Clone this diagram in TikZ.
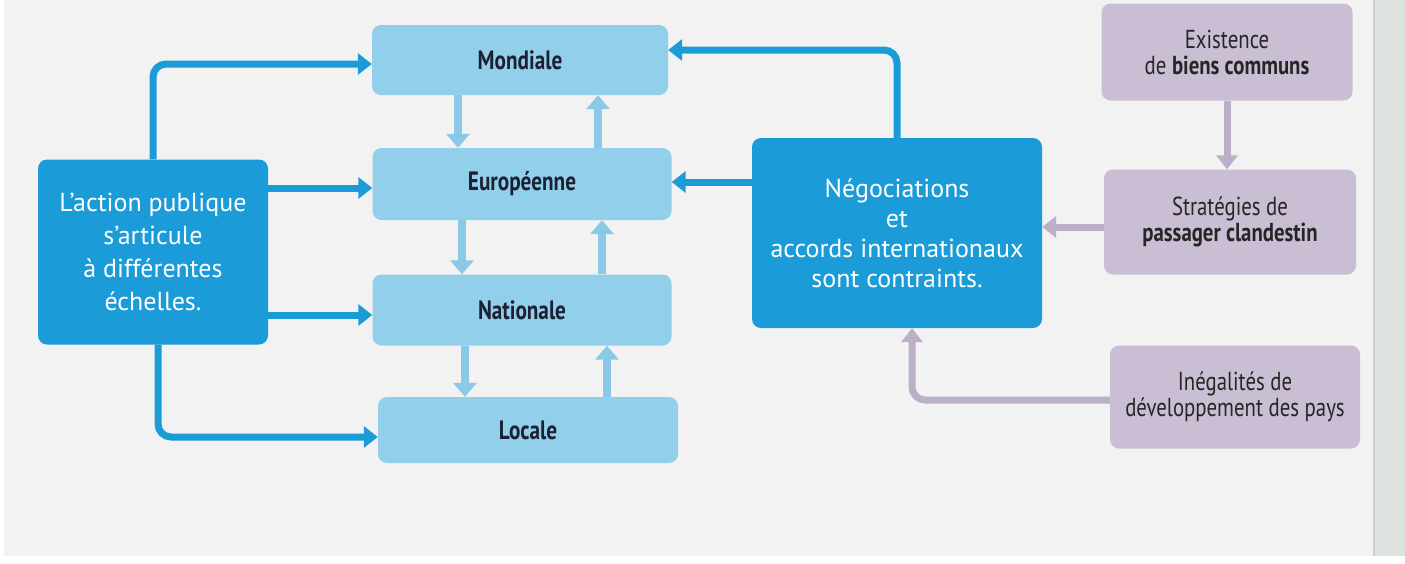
\documentclass[tikz,border=0pt]{standalone}
\usepackage{fontspec}
\setmainfont{PT Sans}
\newfontfamily\narrowfont[FakeStretch=0.80]{PT Sans}
\usetikzlibrary{arrows.meta}
\definecolor{dblue}{RGB}{27,156,216}
\definecolor{lblue}{RGB}{145,207,235}
\definecolor{lbluearr}{RGB}{138,201,232}
\definecolor{lilac}{RGB}{201,190,211}
\definecolor{lilacarr}{RGB}{188,175,200}
\definecolor{navy}{RGB}{28,32,48}
\definecolor{pagebg}{RGB}{242,242,242}
\definecolor{gutter}{RGB}{222,226,222}
\tikzset{
  darkbox/.style={fill=dblue, rounded corners=9pt, text=white, align=center, inner sep=0pt},
  lightbox/.style={fill=lblue, rounded corners=9pt, text=navy, align=center, inner sep=0pt,
    font=\narrowfont\bfseries\fontsize{26.5}{30}\selectfont},
  lilacbox/.style={fill=lilac, rounded corners=9pt, text=black!85, align=center, inner sep=0pt,
    font=\narrowfont\fontsize{26}{26}\selectfont},
  bluearrow/.style={draw=dblue, line width=7pt, rounded corners=13pt,
    -{Triangle[width=21pt,length=14pt]}},
  lightarrow/.style={draw=lbluearr, line width=8pt, -{Triangle[width=23pt,length=14pt]}},
  lilacarrow/.style={draw=lilacarr, line width=7pt, rounded corners=13pt,
    -{Triangle[width=21pt,length=14pt]}},
}
\begin{document}
\begin{tikzpicture}[x=1pt,y=-1pt]
\useasboundingbox (0,0) rectangle (1405,563);
% page
\fill[white] (0,0) rectangle (1405,563);
\fill[pagebg] (4,0) rectangle (1374,556);
\fill[gutter] (1374,0) rectangle (1405,556);
\draw[black!20, line width=1.5pt] (1374,0) -- (1374,556);

% nodes
\node[darkbox, minimum width=230pt, minimum height=185pt,
  font=\fontsize{26}{33}\selectfont] (act) at (153,252)
  {L’action publique\\s’articule\\à différentes\\échelles.};
\node[lightbox, minimum width=296pt, minimum height=70pt] (mon) at (520,60) {Mondiale};
\node[lightbox, minimum width=299pt, minimum height=72pt] (eur) at (522,184) {Européenne};
\node[lightbox, minimum width=299pt, minimum height=71pt] (nat) at (522,310) {Nationale};
\node[lightbox, minimum width=300pt, minimum height=66pt] (loc) at (528,430) {Locale};
\node[darkbox, minimum width=290pt, minimum height=190pt,
  font=\fontsize{26}{30}\selectfont] (neg) at (897,233)
  {Négociations\\et\\accords internationaux\\sont contraints.};
\node[lilacbox, minimum width=251pt, minimum height=97pt] (exi) at (1227,52)
  {Existence\\de \textbf{biens communs}};
\node[lilacbox, minimum width=252pt, minimum height=105pt] (str) at (1230,222)
  {Stratégies de\\\textbf{passager clandestin}};
\node[lilacbox, minimum width=250pt, minimum height=103pt] (ine) at (1235,397)
  {Inégalités de\\développement des pays};

% coordinates for connector ends
\coordinate (m1) at ([yshift=-4pt]mon.west);
\coordinate (e1) at ([yshift=-4pt]eur.west);
\coordinate (n1) at ([yshift=-5pt]nat.west);
\coordinate (l1) at ([yshift=-7pt]loc.west);
\coordinate (a4) at ([xshift=5pt]act.south);
\coordinate (m2) at ([yshift=10pt]mon.east);
\coordinate (e2) at ([yshift=2pt]eur.east);
\coordinate (s1) at ([yshift=-5pt]str.west);
\coordinate (i1) at ([yshift=-3pt]ine.west);
\coordinate (g1) at ([xshift=15pt]neg.south);

% dark blue connectors
\draw[bluearrow] (act.north) |- (m1);
\draw[bluearrow] (act.east |- e1) -- (e1);
\draw[bluearrow] (act.east |- n1) -- (n1);
\draw[bluearrow] (a4) |- (l1);
\draw[bluearrow] (neg.north) |- (m2);
\draw[bluearrow] (neg.west |- e2) -- (e2);

% light blue connectors between scales
\coordinate (d1) at ([xshift=-62pt]mon.south);
\coordinate (u1) at ([xshift=76pt]eur.north);
\coordinate (d2) at ([xshift=-60pt]eur.south);
\coordinate (u2) at ([xshift=80pt]nat.north);
\coordinate (d3) at ([xshift=-57pt]nat.south);
\coordinate (u3) at ([xshift=79pt]loc.north);
\draw[lightarrow] (d1) -- (d1 |- eur.north);
\draw[lightarrow] (u1) -- (u1 |- mon.south);
\draw[lightarrow] (d2) -- (d2 |- nat.north);
\draw[lightarrow] (u2) -- (u2 |- eur.south);
\draw[lightarrow] (d3) -- (d3 |- loc.north);
\draw[lightarrow] (u3) -- (u3 |- nat.south);

% lilac connectors
\draw[lilacarrow] (exi.south) -- (exi.south |- str.north);
\draw[lilacarrow] (s1) -- (neg.east |- s1);
\draw[lilacarrow] (i1) -| (g1);
\end{tikzpicture}
\end{document}
